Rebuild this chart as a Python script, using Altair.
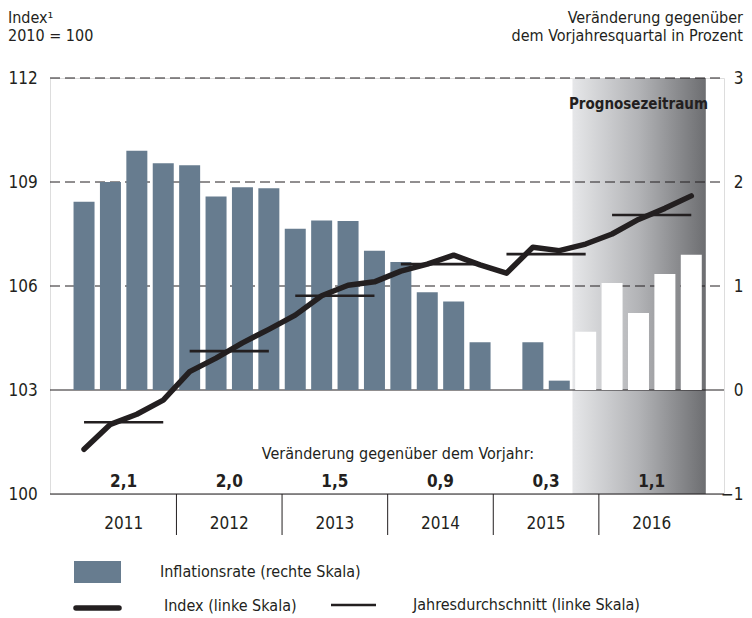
import altair as alt
import pandas as pd

# ---------------- data ----------------
quarters = list(range(24))  # 2011Q1 ... 2016Q4
inflation = [1.81, 2.00, 2.30, 2.18,
             2.16, 1.86, 1.95, 1.94,
             1.55, 1.63, 1.625, 1.34,
             1.23, 0.94, 0.85, 0.46,
             0.00, 0.46, 0.09, 0.56,
             1.03, 0.74, 1.115, 1.30]
index_vals = [101.29, 102.01, 102.30, 102.71,
              103.53, 103.92, 104.36, 104.75,
              105.16, 105.72, 106.02, 106.12,
              106.43, 106.63, 106.89, 106.61,
              106.37, 107.12, 107.02, 107.21,
              107.50, 107.92, 108.24, 108.60]
forecast_from = 19  # first forecast quarter (2015Q4)
years = ["2011", "2012", "2013", "2014", "2015", "2016"]
annual_avg = [102.07, 104.12, 105.72, 106.63, 106.92, 108.05]
annual_change = ["2,1", "2,0", "1,5", "0,9", "0,3", "1,1"]
left_ticks = [100, 103, 106, 109, 112]
right_ticks = [-1, 0, 1, 2, 3]
dashed_levels = [112, 109, 106]
solid_levels = [103, 100]

# ---------------- layout / style ----------------
W, H = 674, 416
XDOM = [-1.1, 24.05]
FONT = "DejaVu Sans Condensed, DejaVu Sans, sans-serif"
INK = "#231f20"
BAR = "#677c8f"
FS = 16    # running text
FN = 17    # numerals
RPAD = 19  # right-hand labels end here (past the plot's right edge)

q = pd.DataFrame({
    "t": quarters,
    "infl": inflation,
    "idx": index_vals,
    "phase": ["Ist" if t < forecast_from else "Prognose" for t in quarters],
})
yr = pd.DataFrame({
    "year": years,
    "start": [4 * i for i in range(len(years))],
    "end": [4 * i + 3 for i in range(len(years))],
    "mid": [4 * i + 1.5 for i in range(len(years))],
    "avg": annual_avg,
    "chg": annual_change,
})
seps = pd.DataFrame({"s": [4 * i - 0.5 for i in range(1, len(years))]})
fc = pd.DataFrame({"x0": [forecast_from - 0.5], "x1": [len(quarters) - 0.45],
                   "xm": [(forecast_from - 0.5 + len(quarters) - 0.5) / 2],
                   "lab": ["Prognosezeitraum"]})

xscale = alt.Scale(domain=XDOM, nice=False, zero=False)
lscale = alt.Scale(domain=[100, 112], nice=False, zero=False)
rscale = alt.Scale(domain=[-1, 3], nice=False)


def X(field):
    return alt.X(field, type="quantitative", scale=xscale, axis=None)


gray = alt.Chart(fc).mark_rect(
    color=alt.LinearGradient(
        gradient="linear",
        stops=[alt.GradientStop(color="#e6e7e9", offset=0),
               alt.GradientStop(color="#b2b3b6", offset=0.5),
               alt.GradientStop(color="#6d6e71", offset=1)],
        x1=0, x2=1, y1=0, y2=0)
).encode(x=X("x0"), x2="x1", y=alt.value(0), y2=alt.value(H))

grid_dash = alt.Chart(pd.DataFrame({"v": dashed_levels})).mark_rule(
    color=INK, strokeWidth=1, strokeDash=[10, 5]
).encode(
    y=alt.Y("v:Q", scale=lscale,
            axis=alt.Axis(orient="left", values=left_ticks, domain=False, ticks=False,
                          grid=False, labelAlign="left", labelPadding=42, title=None,
                          labelFontSize=FN, labelColor=INK, labelFont=FONT)),
    x=alt.value(0), x2=alt.value(W))

grid_solid = alt.Chart(pd.DataFrame({"v": solid_levels})).mark_rule(
    color=INK, strokeWidth=1.2
).encode(y=alt.Y("v:Q", scale=lscale, axis=None), x=alt.value(0), x2=alt.value(W))

bars = alt.Chart(q).mark_bar(size=21).encode(
    x=X("t"),
    y=alt.Y("infl:Q", scale=rscale,
            axis=alt.Axis(orient="right", values=right_ticks, format="d", domain=False,
                          ticks=False, grid=False, labelAlign="right", labelPadding=RPAD,
                          title=None, labelFontSize=FN, labelColor=INK, labelFont=FONT)),
    y2=alt.datum(0),
    color=alt.Color("phase:N", scale=alt.Scale(domain=["Ist", "Prognose"],
                                                range=[BAR, "#ffffff"]), legend=None),
)

line = alt.Chart(q).mark_line(color=INK, strokeWidth=5.5, strokeCap="round",
                              strokeJoin="round").encode(
    x=X("t"), y=alt.Y("idx:Q", scale=lscale, axis=None))

avg = alt.Chart(yr).mark_rule(color=INK, strokeWidth=2.6).encode(
    x=X("start"), x2="end", y=alt.Y("avg:Q", scale=lscale, axis=None))

prog_txt = alt.Chart(fc).mark_text(font=FONT, fontSize=15, fontWeight="bold",
                                   color=INK).encode(
    x=X("xm"), y=alt.value(26), text="lab:N")

chg_title = alt.Chart(pd.DataFrame({"s": ["Veränderung gegenüber dem Vorjahr:"]})).mark_text(
    font=FONT, fontSize=FS, color=INK).encode(
    x=alt.value(348), y=alt.value(376), text="s:N")

chg_vals = alt.Chart(yr).mark_text(font=FONT, fontSize=17, fontWeight="bold",
                                   color=INK).encode(
    x=X("mid"), y=alt.value(404), text="chg:N")

year_lab = alt.Chart(yr).mark_text(font=FONT, fontSize=FN, color=INK).encode(
    x=X("mid"), y=alt.value(446), text="year:N")

sep_rules = alt.Chart(seps).mark_rule(color=INK, strokeWidth=1).encode(
    x=X("s"), y=alt.value(H), y2=alt.value(H + 41))

hdr_left = alt.Chart(pd.DataFrame({"s": ["Index¹", "2010 = 100"], "yy": [-60, -42]})).mark_text(
    font=FONT, fontSize=FS, color=INK, align="left").encode(
    x=alt.value(-42), y=alt.Y("yy:Q", scale=None), text="s:N")

hdr_right = alt.Chart(pd.DataFrame({"s": ["Veränderung gegenüber",
                                          "dem Vorjahresquartal in Prozent"],
                                    "yy": [-60, -42]})).mark_text(
    font=FONT, fontSize=FS, color=INK, align="right").encode(
    x=alt.value(W + RPAD), y=alt.Y("yy:Q", scale=None), text="s:N")

# legend
leg_rect = alt.Chart(pd.DataFrame({"a": [0]})).mark_rect(color=BAR).encode(
    x=alt.value(24), x2=alt.value(71), y=alt.value(483), y2=alt.value(505))
leg_thick = alt.Chart(pd.DataFrame({"a": [0]})).mark_rule(
    color=INK, strokeWidth=5.5, strokeCap="round").encode(
    x=alt.value(26), x2=alt.value(69), y=alt.value(530))
leg_thin = alt.Chart(pd.DataFrame({"a": [0]})).mark_rule(
    color=INK, strokeWidth=2.6).encode(
    x=alt.value(281), x2=alt.value(326), y=alt.value(527))
leg_text = alt.Chart(pd.DataFrame({
    "s": ["Inflationsrate (rechte Skala)", "Index (linke Skala)",
          "Jahresdurchschnitt (linke Skala)"],
    "xx": [110, 114, 363], "yy": [494, 528, 527]})).mark_text(
    font=FONT, fontSize=FS, color=INK, align="left").encode(
    x=alt.X("xx:Q", scale=None), y=alt.Y("yy:Q", scale=None), text="s:N")

chart = alt.layer(
    gray, grid_dash, grid_solid, bars, line, avg, prog_txt, chg_title, chg_vals,
    year_lab, sep_rules, hdr_left, hdr_right, leg_rect, leg_thick, leg_thin, leg_text
).resolve_scale(y="independent").properties(
    width=W, height=H,
    padding={"left": 42, "top": 70, "right": 20, "bottom": 124},
    autosize=alt.AutoSizeParams(type="none"),
).configure_view(stroke=None).configure(background="white")

chart.save("out.html", embed_options={"renderer": "svg", "actions": False})
